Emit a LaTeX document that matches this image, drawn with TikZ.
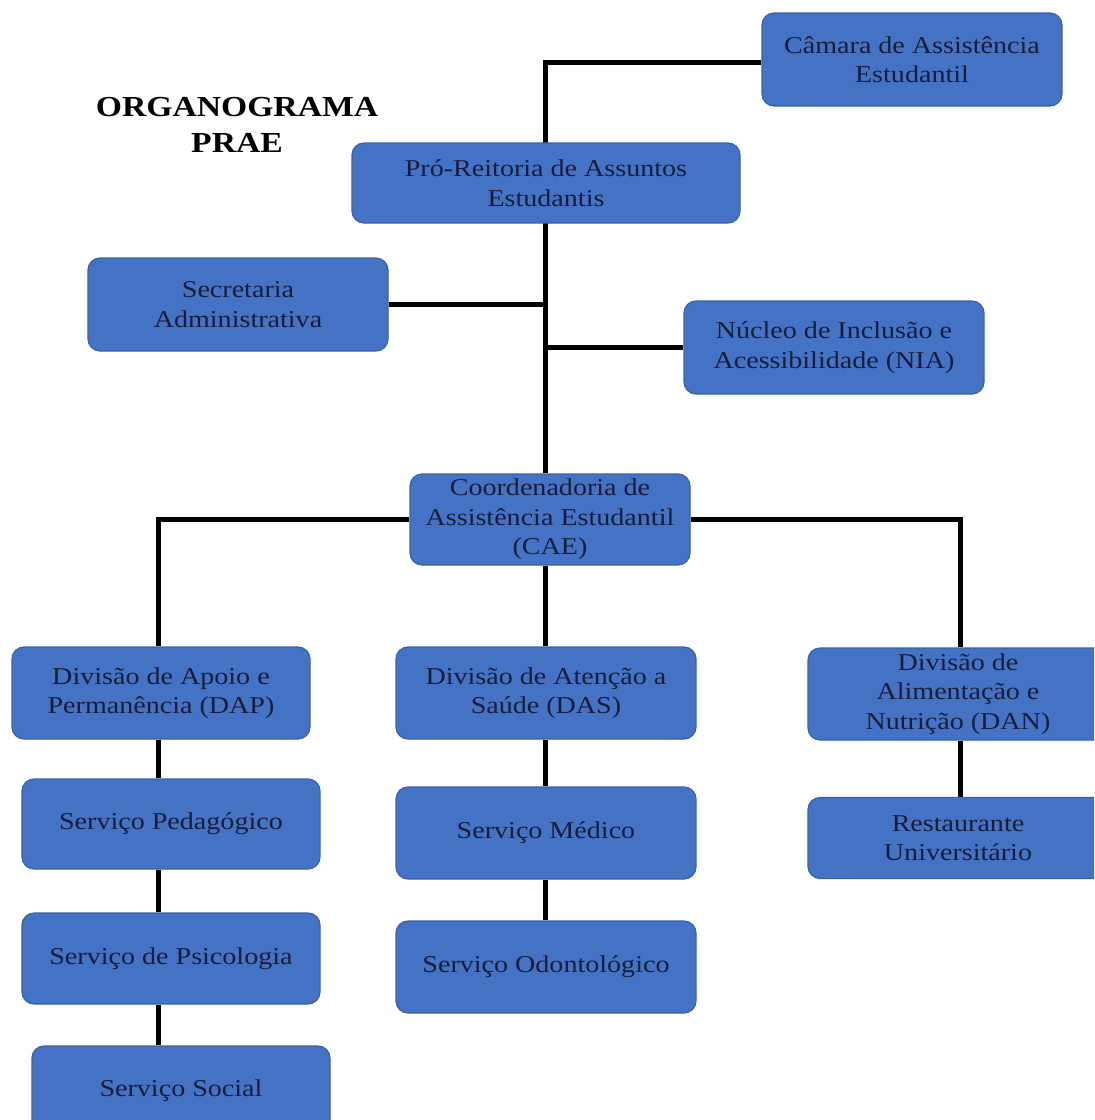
\documentclass[tikz,border=0pt]{standalone}
\usepackage{fontspec}
\setmainfont[FakeStretch=1.16]{Liberation Serif}
\definecolor{boxblue}{HTML}{4472C4}
\definecolor{boxedge}{HTML}{3A62A8}
\definecolor{boxtext}{HTML}{1A1D3A}
\pgfdeclarelayer{background}
\pgfsetlayers{background,main}
\begin{document}
\begin{tikzpicture}[x=0.5pt,y=-0.5pt,
  orgbox/.style={draw=boxedge, line width=0.6pt, fill=boxblue, rounded corners=6pt,
    text=boxtext, align=center, inner sep=2pt,
    font=\fontsize{12.1}{14.8}\selectfont},
  link/.style={line width=2.5pt, black}]
\clip (0,0) rectangle (1094,1120);
\node[font=\bfseries\fontsize{14.5}{18}\selectfont, align=center] (title) at (237,125) {ORGANOGRAMA\\PRAE};
\node[orgbox, minimum width=150pt, minimum height=46.5pt] (cam) at (912,59.5) {Câmara de Assistência\\Estudantil};
\node[orgbox, minimum width=194pt, minimum height=40pt] (pro) at (546,183) {Pró-Reitoria de Assuntos\\Estudantis};
\node[orgbox, minimum width=150pt, minimum height=46.5pt] (sec) at (238,304.5) {Secretaria\\Administrativa};
\node[orgbox, minimum width=150pt, minimum height=46.5pt] (nia) at (834,347.5) {Núcleo de Inclusão e\\Acessibilidade (NIA)};
\node[orgbox, minimum width=140pt, minimum height=45.5pt] (cae) at (550,519.5) {Coordenadoria de\\Assistência Estudantil\\(CAE)};
\node[orgbox, minimum width=149pt, minimum height=46pt] (dap) at (161,693) {Divisão de Apoio e\\Permanência (DAP)};
\node[orgbox, minimum width=150pt, minimum height=46pt] (das) at (546,693) {Divisão de Atenção a\\Saúde (DAS)};
\node[orgbox, minimum width=150pt, minimum height=46pt] (dan) at (958,694) {Divisão de\\Alimentação e\\Nutrição (DAN)};
\node[orgbox, minimum width=149pt, minimum height=45pt] (ped) at (171,824) {Serviço Pedagógico};
\node[orgbox, minimum width=149pt, minimum height=45.5pt] (psi) at (171,958.5) {Serviço de Psicologia};
\node[orgbox, minimum width=149pt, minimum height=45pt] (soc) at (181,1091) {Serviço Social};
\node[orgbox, minimum width=150pt, minimum height=46pt] (med) at (546,833) {Serviço Médico};
\node[orgbox, minimum width=150pt, minimum height=46pt] (odo) at (546,967) {Serviço Odontológico};
\node[orgbox, minimum width=150pt, minimum height=40.5pt] (res) at (958,838) {Restaurante\\Universitário};
\coordinate (top) at (545,62);
\coordinate (lx) at (158,0);
\coordinate (rx) at (960,0);
\begin{pgfonlayer}{background}
\fill[white] (0,0) rectangle (1094,1120);
\draw[link] (cam.west |- top) -- (top) -- (cae.north -| top);
\draw[link] (sec.east) -- (sec.east -| top);
\draw[link] (nia.west) -- (nia.west -| top);
\draw[link] (cae.west) -- (cae.west -| lx) -- (dap.north -| lx);
\draw[link] (cae.east) -- (cae.east -| rx) -- (dan.north -| rx);
\draw[link] (cae.south -| top) -- (das.north -| top);
\draw[link] (dap.south -| lx) -- (ped.north -| lx);
\draw[link] (ped.south -| lx) -- (psi.north -| lx);
\draw[link] (psi.south -| lx) -- (soc.north -| lx);
\draw[link] (das.south -| top) -- (med.north -| top);
\draw[link] (med.south -| top) -- (odo.north -| top);
\draw[link] (dan.south -| rx) -- (res.north -| rx);
\end{pgfonlayer}
\end{tikzpicture}
\end{document}
